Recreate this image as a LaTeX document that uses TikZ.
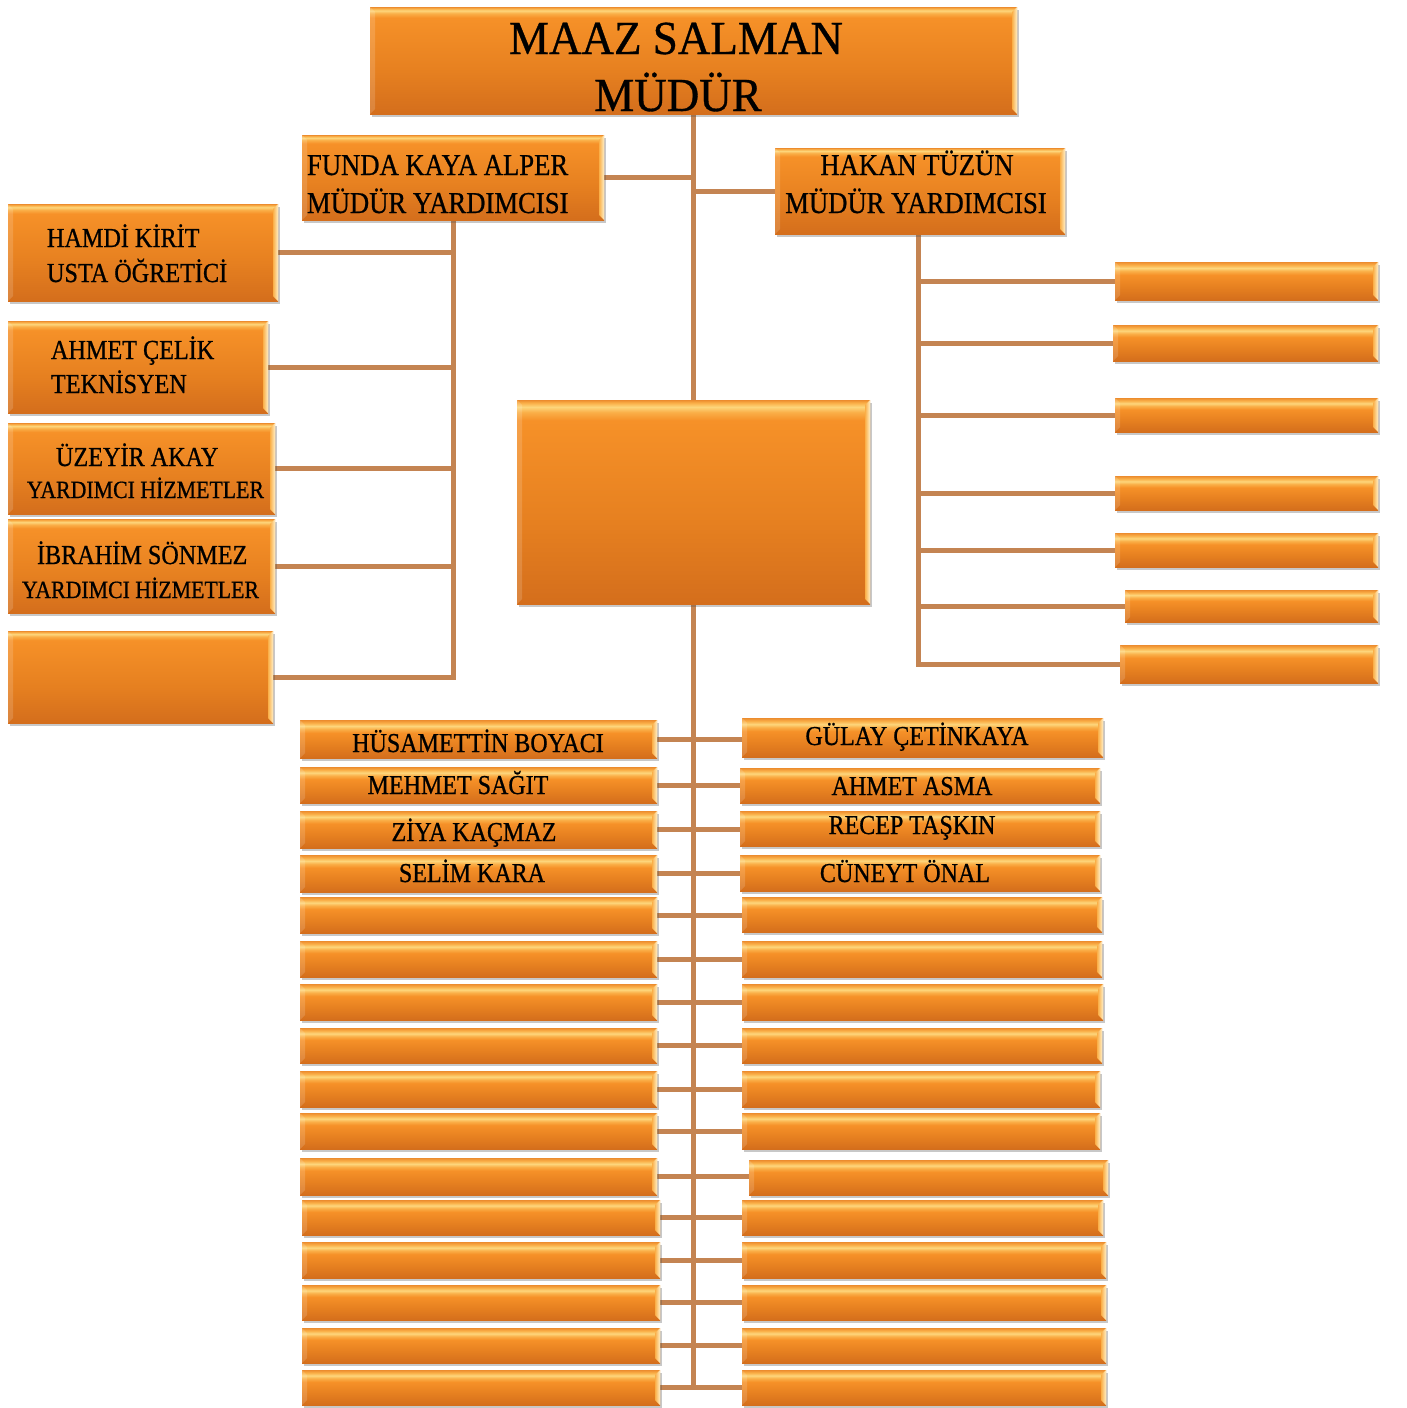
\documentclass[tikz,border=0pt]{standalone}
\usepackage{fontspec}
\setmainfont{Liberation Serif}[FakeStretch=0.88,FakeBold=0.7]
\newfontfamily\titlefont{Liberation Serif}[FakeStretch=0.95,FakeBold=0.7]
\usetikzlibrary{shadows,backgrounds}

\definecolor{oA}{RGB}{212,110,28}
\definecolor{oB}{RGB}{230,128,32}
\definecolor{oC}{RGB}{246,145,40}
\definecolor{oD}{RGB}{250,175,72}
\definecolor{oE}{RGB}{253,214,124}
\definecolor{oF}{RGB}{236,140,46}
\definecolor{creamC}{RGB}{255,238,196}
\definecolor{connC}{RGB}{196,132,82}

\pgfdeclareverticalshading{obar}{100bp}{color(0bp)=(oA); color(25bp)=(oA); color(42bp)=(oB); color(58bp)=(oC); color(63bp)=(oD); color(67bp)=(oE); color(71bp)=(oD); color(75bp)=(oF); color(100bp)=(oF)}
\pgfdeclareverticalshading{obig}{100bp}{color(0bp)=(oA); color(25bp)=(oA); color(45bp)=(oB); color(70bp)=(oC); color(72bp)=(oD); color(73.3bp)=(oE); color(74.3bp)=(oD); color(75bp)=(oF); color(100bp)=(oF)}

\tikzset{
  obox/.style={rectangle, inner sep=0pt, outer sep=0pt, draw=none, shade, shading=obar,
    drop shadow={shadow xshift=1.5pt, shadow yshift=-3pt, opacity=0.3, fill=black!70}},
  bigbox/.style={shading=obig},
  bevR/.style={left color=oD, right color=creamC},
  bevL/.style={fill=white, fill opacity=0.15},
  conn/.style={draw=connC, line width=5pt, line cap=rect},
  lbl/.style={inner sep=0pt, outer sep=0pt, text=black},
  fbot/.style={font=\fontsize{27.3}{30}\selectfont},
  fleft/.style={font=\fontsize{27.5}{30}\selectfont},
  fleftsm/.style={font=\fontsize{24.8}{28}\selectfont},
  fmid/.style={font=\fontsize{30.3}{32}\selectfont},
  ftitle/.style={font=\titlefont\fontsize{47.4}{50}\selectfont},
}

% #1 extra options, #2 name, #3 x1, #4 y1, #5 x2, #6 y2
\newcommand\obox[6][]{%
  \node[obox,#1, minimum width={(#5-#3)*1pt}, minimum height={(#6-#4)*1pt}] (#2) at ({(#3+#5)/2},{(#4+#6)/2}) {};
  \shade[bevR] ([xshift=-5pt,yshift=-5pt]#2.north east) -- (#2.north east) -- (#2.south east) -- ([xshift=-5pt,yshift=5pt]#2.south east) -- cycle;
  \fill[bevL] ([xshift=5pt,yshift=-5pt]#2.north west) -- (#2.north west) -- (#2.south west) -- ([xshift=5pt,yshift=5pt]#2.south west) -- cycle;
}

\begin{document}
\begin{tikzpicture}[x=1pt,y=-1pt]
\useasboundingbox (0,0) rectangle (1406,1408);

% top level
\obox[bigbox]{top}{370}{7}{1017}{114}
\node[lbl,ftitle,anchor=base] (tTop1) at (676,54) {MAAZ SALMAN};
\node[lbl,ftitle,anchor=base] (tTop2) at (678,111) {MÜDÜR};

% vice principals
\obox[bigbox]{funda}{302}{135}{604}{220}
\node[lbl,fmid,anchor=base west] (tFun1) at (307,175) {FUNDA KAYA ALPER};
\node[lbl,fmid,anchor=base west] (tFun2) at (307,213) {MÜDÜR YARDIMCISI};

\obox[bigbox]{hakan}{775}{148}{1065}{234}
\node[lbl,fmid,anchor=base] (tHak1) at (917,175) {HAKAN TÜZÜN};
\node[lbl,fmid,anchor=base] (tHak2) at (916,213) {MÜDÜR YARDIMCISI};

% centre box
\obox[bigbox]{big}{517}{400}{870}{604}

% left group
\obox[bigbox]{hamdi}{8}{204}{278}{301}
\node[lbl,fleft,anchor=base west] (tHam1) at (47,247) {HAMDİ KİRİT};
\node[lbl,fleft,anchor=base west] (tHam2) at (47,282) {USTA ÖĞRETİCİ};
\obox[bigbox]{ahmet}{8}{321}{268}{413}
\node[lbl,fleft,anchor=base west] (tAhm1) at (51,359) {AHMET ÇELİK};
\node[lbl,fleft,anchor=base west] (tAhm2) at (51,393) {TEKNİSYEN};
\obox[bigbox]{uzeyir}{8}{423}{275}{514}
\node[lbl,fleft,anchor=base west] (tUze1) at (56,466) {ÜZEYİR AKAY};
\node[lbl,fleftsm,anchor=base west] (tUze2) at (27,498) {YARDIMCI HİZMETLER};
\obox[bigbox]{ibrahim}{8}{519}{275}{613}
\node[lbl,fleft,anchor=base west] (tIbr1) at (37,564) {İBRAHİM SÖNMEZ};
\node[lbl,fleftsm,anchor=base west] (tIbr2) at (22,598) {YARDIMCI HİZMETLER};
\obox[bigbox]{emptyL}{8}{631}{273}{723}

% right group
\obox{r1}{1115}{262}{1378}{300}
\obox{r2}{1113}{325}{1378}{361}
\obox{r3}{1115}{398}{1378}{432}
\obox{r4}{1115}{476}{1378}{510}
\obox{r5}{1115}{533}{1378}{567}
\obox{r6}{1125}{590}{1378}{622}
\obox{r7}{1120}{645}{1378}{683}

% bottom columns
\foreach \i/\xa/\ya/\xb/\yb in {1/300/720/657/758, 2/300/767/657/803, 3/300/811/657/848, 4/300/855/657/892, 5/300/897/657/933, 6/300/941/657/977, 7/300/984/657/1020, 8/300/1028/657/1063, 9/300/1071/657/1107, 10/300/1113/657/1149, 11/300/1158/657/1195, 12/302/1200/660/1235, 13/302/1242/660/1278, 14/302/1285/660/1320, 15/302/1328/660/1363, 16/302/1370/660/1405}
  {\obox{L\i}{\xa}{\ya}{\xb}{\yb}}
\foreach \i/\xa/\ya/\xb/\yb in {1/742/718/1103/757, 2/740/768/1100/803, 3/740/811/1100/846, 4/740/855/1100/891, 5/742/897/1102/932, 6/742/941/1102/977, 7/742/984/1103/1020, 8/742/1028/1102/1063, 9/742/1071/1100/1107, 10/742/1113/1100/1149, 11/749/1160/1108/1195, 12/742/1200/1103/1235, 13/742/1242/1106/1278, 14/742/1285/1106/1320, 15/742/1328/1106/1363, 16/742/1370/1106/1405}
  {\obox{R\i}{\xa}{\ya}{\xb}{\yb}}

\node[lbl,fbot,anchor=base] (tL1) at (478,752) {HÜSAMETTİN BOYACI};
\node[lbl,fbot,anchor=base] (tL2) at (458,794) {MEHMET SAĞIT};
\node[lbl,fbot,anchor=base] (tL3) at (474,841) {ZİYA KAÇMAZ};
\node[lbl,fbot,anchor=base] (tL4) at (472,882) {SELİM KARA};
\node[lbl,fbot,anchor=base] (tR1) at (917,745) {GÜLAY ÇETİNKAYA};
\node[lbl,fbot,anchor=base] (tR2) at (912,795) {AHMET ASMA};
\node[lbl,fbot,anchor=base] (tR3) at (912,834) {RECEP TAŞKIN};
\node[lbl,fbot,anchor=base] (tR4) at (905,882) {CÜNEYT ÖNAL};

% connectors
\begin{pgfonlayer}{background}
  \fill[white] (0,0) rectangle (1406,1408);
  \draw[conn] (top.south) -- (big.north);
  \draw[conn] (funda.east) -- (funda.east -| top.south);
  \draw[conn] (hakan.west) -- (hakan.west -| top.south);
  \draw[conn] (funda.south) |- (emptyL.east);
  \foreach \n in {hamdi,ahmet,uzeyir,ibrahim}
    \draw[conn] (\n.east) -- (\n.east -| funda.south);
  \draw[conn] ([xshift=-2pt]hakan.south) |- (r7.west);
  \foreach \n in {r1,r2,r3,r4,r5,r6}
    \draw[conn] (\n.west) -- (\n.west -| hakan.south);
  \draw[conn] (big.south) -- (big.south |- L16.east);
  \foreach \i in {1,...,16}
    \draw[conn] (L\i.east) -- (L\i.east -| R\i.west);
\end{pgfonlayer}
\end{tikzpicture}
\end{document}
